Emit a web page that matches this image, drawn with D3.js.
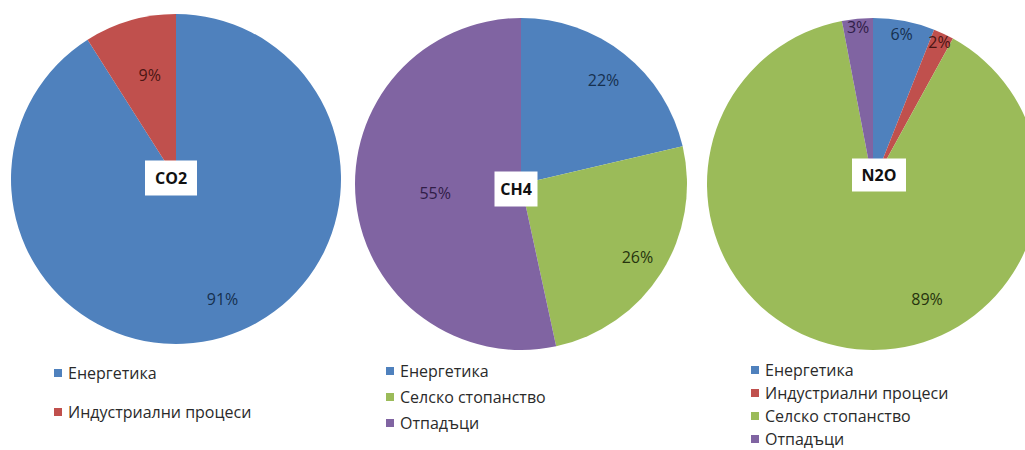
<!DOCTYPE html>
<html>
<head>
<meta charset="utf-8">
<script src="https://cdn.jsdelivr.net/npm/d3@7/dist/d3.min.js"></script>
<style>
  html, body { margin: 0; padding: 0; background: #fff; }
  svg { display: block; }
</style>
</head>
<body>
<svg id="chart" width="1025" height="450"></svg>
<script>
// ---- data ----
const gases = ["CO2", "CH4", "N2O"];
const co2Categories = ["Енергетика", "Индустриални процеси"];
const co2Values = [91, 9];
const ch4Categories = ["Енергетика", "Селско стопанство", "Отпадъци"];
const ch4Values = [22, 26, 55];
const n2oCategories = ["Енергетика", "Индустриални процеси", "Селско стопанство", "Отпадъци"];
const n2oValues = [6, 2, 89, 3];

// ---- styles / layout ----
const categoryColors = {
  "Енергетика": "#4F81BD",
  "Индустриални процеси": "#C0504D",
  "Селско стопанство": "#9BBB59",
  "Отпадъци": "#8064A2"
};
const labelColors = {
  "Енергетика": "#16304f",
  "Индустриални процеси": "#4a1513",
  "Селско стопанство": "#26330e",
  "Отпадъци": "#301d48"
};
const layouts = [
  { cx: 176, cy: 179, r: 165, box: { dx: -5, dy: -1, w: 52, h: 35 },
    labelR: [0.78, 0.65], labelShift: [-5, 2],
    legend: { x: 58, y: 373, step: 39 } },
  { cx: 521, cy: 184, r: 166, box: { dx: -5, dy: 5, w: 43, h: 35 },
    labelR: [0.8, 0.83, 0.52], labelShift: [0, 0, 0],
    legend: { x: 390, y: 371, step: 26 } },
  { cx: 873, cy: 184, r: 166, box: { dx: 6, dy: -9, w: 54, h: 33 },
    labelR: [0.92, 0.94, 0.77, 0.95], labelShift: [0, 0, -34, 0],
    legend: { x: 755, y: 370, step: 23 } }
];
const seriesCats = [co2Categories, ch4Categories, n2oCategories];
const seriesVals = [co2Values, ch4Values, n2oValues];

const svg = d3.select("#chart");
const pie = d3.pie().sort(null).value(d => d.value);
const font = "'Open Sans', 'Liberation Sans', sans-serif";

gases.forEach((gas, gi) => {
  const L = layouts[gi];
  const data = seriesCats[gi].map((c, i) => ({ cat: c, value: seriesVals[gi][i], idx: i }));
  const arcs = pie(data);
  const arc = d3.arc().innerRadius(0).outerRadius(L.r);
  const g = svg.append("g").attr("transform", `translate(${L.cx},${L.cy})`);

  g.selectAll("path.slice").data(arcs).join("path")
    .attr("class", "slice")
    .attr("d", arc)
    .attr("fill", d => categoryColors[d.data.cat]);

  g.selectAll("text.lbl").data(arcs).join("text")
    .attr("class", "lbl")
    .attr("transform", d => {
      const i = d.data.idx;
      const a = (d.startAngle + d.endAngle) / 2 + L.labelShift[i] * Math.PI / 180;
      const rr = L.r * L.labelR[i];
      return `translate(${rr * Math.sin(a)},${-rr * Math.cos(a)})`;
    })
    .attr("text-anchor", "middle")
    .attr("dy", "0.35em")
    .attr("font-family", font)
    .attr("font-size", 16)
    .attr("fill", d => labelColors[d.data.cat])
    .text(d => d.data.value + "%");

  // gas title box
  const bx = L.box;
  g.append("rect")
    .attr("x", bx.dx - bx.w / 2).attr("y", bx.dy - bx.h / 2)
    .attr("width", bx.w).attr("height", bx.h)
    .attr("fill", "#fff");
  g.append("text")
    .attr("x", bx.dx).attr("y", bx.dy)
    .attr("dy", "0.36em")
    .attr("text-anchor", "middle")
    .attr("font-family", font)
    .attr("font-weight", "bold")
    .attr("font-size", 16)
    .attr("fill", "#111")
    .text(gas);

  // legend
  const lg = svg.append("g").attr("transform", `translate(${L.legend.x},${L.legend.y})`);
  const items = lg.selectAll("g.item").data(seriesCats[gi]).join("g")
    .attr("class", "item")
    .attr("transform", (d, i) => `translate(0,${i * L.legend.step})`);
  items.append("rect")
    .attr("x", -4).attr("y", -4).attr("width", 8).attr("height", 8)
    .attr("fill", d => categoryColors[d]);
  items.append("text")
    .attr("x", 10).attr("dy", "0.35em")
    .attr("font-family", font)
    .attr("font-size", 16)
    .attr("fill", "#2a2a2a")
    .text(d => d);
});
</script>
</body>
</html>
